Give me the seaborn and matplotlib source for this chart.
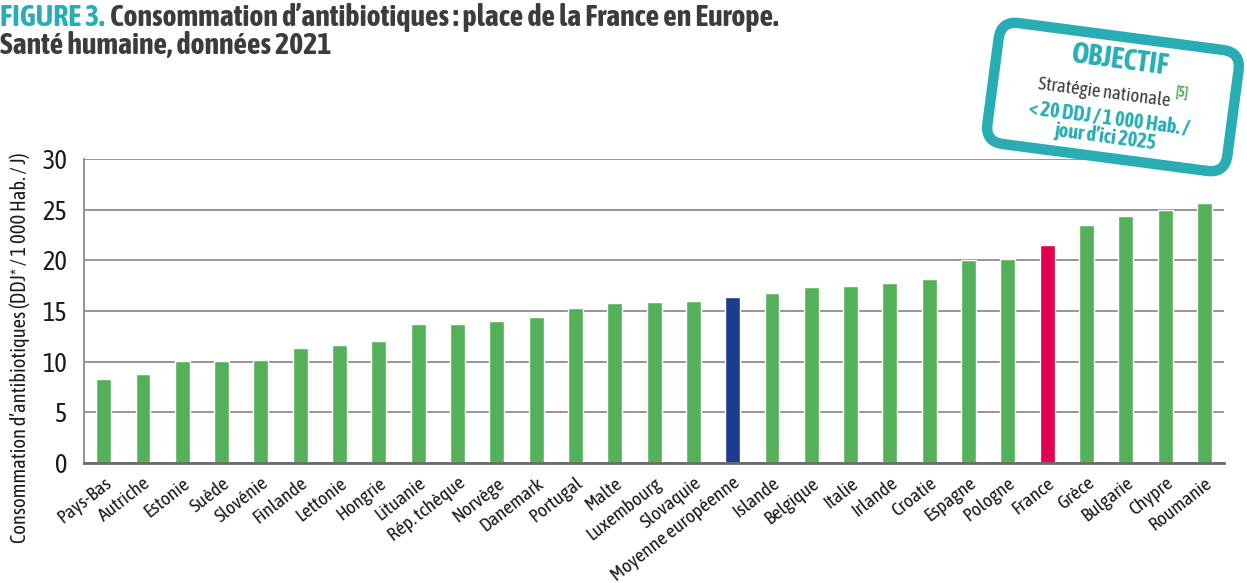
import matplotlib
matplotlib.use("Agg")
import matplotlib.pyplot as plt
import seaborn as sns
import pandas as pd
from matplotlib import font_manager
from matplotlib.patches import FancyBboxPatch
from matplotlib.transforms import Affine2D

# Data
pays = ["Pays-Bas", "Autriche", "Estonie", "Suède", "Slovénie", "Finlande", "Lettonie",
        "Hongrie", "Lituanie", "Rép. tchèque", "Norvège", "Danemark", "Portugal", "Malte",
        "Luxembourg", "Slovaquie", "Moyenne européenne", "Islande", "Belgique", "Italie",
        "Irlande", "Croatie", "Espagne", "Pologne", "France", "Grèce", "Bulgarie",
        "Chypre", "Roumanie"]
ddj = [8.3, 8.8, 10.1, 10.1, 10.2, 11.3, 11.6, 12.0, 13.7, 13.7, 14.0, 14.4, 15.3, 15.8,
       15.9, 16.0, 16.4, 16.8, 17.4, 17.5, 17.8, 18.2, 20.0, 20.1, 21.5, 23.5, 24.4,
       25.0, 25.7]
y_ticks = [0, 5, 10, 15, 20, 25, 30]

GREEN = "#55b159"
BLUE = "#1c3d8f"
PINK = "#e3004f"
TEAL = "#28adb5"

colors = {p: GREEN for p in pays}
colors["Moyenne européenne"] = BLUE
colors["France"] = PINK

df = pd.DataFrame({"pays": pays, "ddj": ddj})

sns.set_style("white")

# pick a condensed family that has regular and bold faces
weights = {}
for f in font_manager.fontManager.ttflist:
    if ("Condensed" in f.name or "Narrow" in f.name) and f.style == "normal":
        w = f.weight if isinstance(f.weight, int) else 400
        weights.setdefault(f.name, set()).add(w)
good = [n for n, ws in sorted(weights.items()) if max(ws) >= 600 and any(350 <= w <= 500 for w in ws)]
if good:
    family = good[0]
else:
    installed = {f.name for f in font_manager.fontManager.ttflist}
    family = "Roboto" if "Roboto" in installed else "DejaVu Sans"
plt.rcParams["font.family"] = [family, "DejaVu Sans"]

fig = plt.figure(figsize=(12.47, 5.83), dpi=100)
ax = fig.add_axes([0.0674, 0.2058, 0.9142, 0.5215])

sns.barplot(data=df, x="pays", y="ddj", hue="pays", palette=colors, legend=False,
            width=0.38, saturation=1, ax=ax)

ax.set_ylim(0, 30)
ax.set_xlim(-0.5, len(pays) - 0.5)
ax.set_yticks(y_ticks)
ax.set_yticklabels([str(t) for t in y_ticks], fontsize=19, color="#1a1a1a")
ax.yaxis.grid(True, color="#8e8e8e", linewidth=1.3)
ax.set_axisbelow(True)
ax.tick_params(axis="y", length=0, pad=12)
ax.tick_params(axis="x", length=0, pad=8)
ax.set_xticks(range(len(pays)))
ax.set_xticklabels(pays, rotation=38, ha="right", va="top", rotation_mode="anchor",
                   fontsize=14, color="#1a1a1a")
ax.set_xlabel("")
ax.set_ylabel("")
for s in ["top", "right"]:
    ax.spines[s].set_visible(False)
ax.spines["left"].set_color("#8a8a8a")
ax.spines["left"].set_linewidth(1.3)
ax.spines["bottom"].set_color("#6a6a6a")
ax.spines["bottom"].set_linewidth(2)

fig.text(20 / 1247, 1 - 348 / 583, "Consommation d’antibiotiques (DDJ* / 1 000 Hab. / J)",
         rotation=90, ha="center", va="center", fontsize=14.8, color="#1a1a1a")

# Title
t1 = fig.text(0.0, 1 - 18 / 583, "FIGURE 3.", fontsize=21.5, fontweight="bold",
              color=TEAL, va="center", ha="left")
fig.canvas.draw()
bb = t1.get_window_extent()
fig.text((bb.x1 + 6) / 1247, 1 - 18 / 583,
         "Consommation d’antibiotiques : place de la France en Europe.",
         fontsize=21.5, fontweight="bold", color="#3c3c3c", va="center", ha="left")
fig.text(0.0, 1 - 45 / 583, "Santé humaine, données 2021", fontsize=21.5,
         fontweight="bold", color="#3c3c3c", va="center", ha="left")

# Stamp "OBJECTIF" in pixel coordinates
ov = fig.add_axes([0, 0, 1, 1], zorder=5)
ov.set_xlim(0, 1247)
ov.set_ylim(583, 0)
ov.axis("off")
ov.patch.set_alpha(0)
cx, cy, w, h = 1113, 97, 242, 122
stamp = FancyBboxPatch((cx - w / 2, cy - h / 2), w, h,
                       boxstyle="round,pad=0,rounding_size=18",
                       facecolor="white", edgecolor=TEAL, linewidth=7.5,
                       transform=Affine2D().rotate_deg_around(cx, cy, 7.5) + ov.transData)
ov.add_patch(stamp)
ov.text(1120, 60, "OBJECTIF", rotation=-7.5, fontsize=21, fontweight="bold",
        color=TEAL, ha="center", va="center", rotation_mode="anchor")
ov.text(1104, 93, "Stratégie nationale", rotation=-7.5, fontsize=13.5, color="#3c3c3c",
        ha="center", va="center", rotation_mode="anchor")
ov.text(1182, 93, "[5]", rotation=-7.5, fontsize=10, fontweight="bold", color=GREEN,
        ha="center", va="center", rotation_mode="anchor")
ov.text(1109, 119, "< 20 DDJ / 1 000 Hab. /", rotation=-7.5, fontsize=14.5,
        fontweight="bold", color=TEAL, ha="center", va="center", rotation_mode="anchor")
ov.text(1106, 137, "jour d’ici 2025", rotation=-7.5, fontsize=14.5, fontweight="bold",
        color=TEAL, ha="center", va="center", rotation_mode="anchor")

fig.savefig("out.png", dpi=100)
